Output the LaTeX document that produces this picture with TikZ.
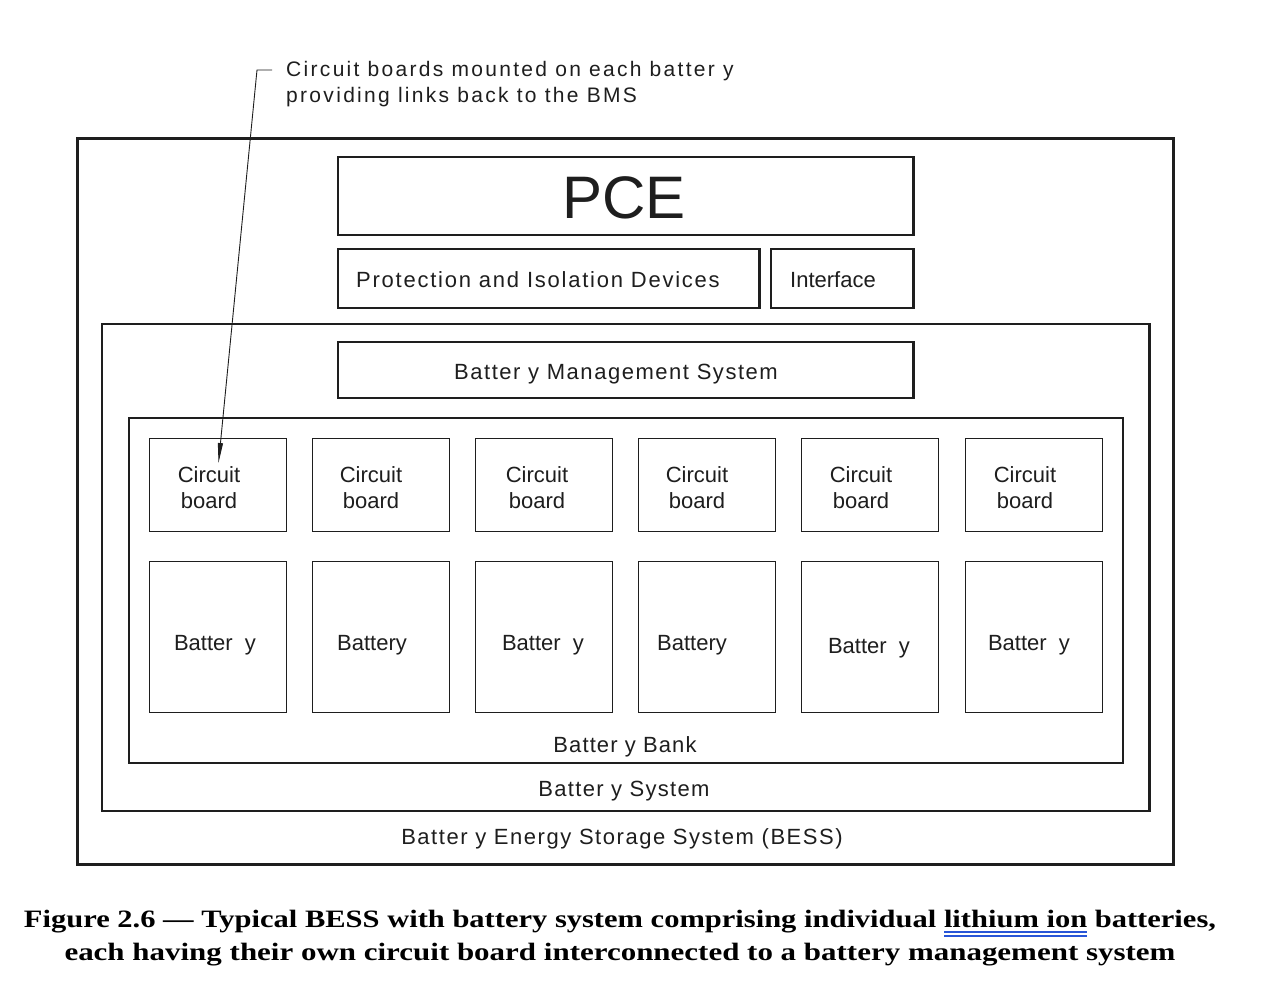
\documentclass[tikz,border=0pt]{standalone}
\usepackage{fontspec}
\setmainfont{Liberation Sans}
\newfontfamily\capfont{Liberation Serif}
\usetikzlibrary{arrows.meta}
\definecolor{ink}{HTML}{1E1E1E}
\definecolor{ulblue}{RGB}{40,85,215}
\newcommand\spc[2]{{\addfontfeature{LetterSpace=#1}#2}}
\newcommand\bul[1]{\setbox0\hbox{#1}\rlap{\textcolor{ulblue}{\rule[-5.5pt]{\wd0}{2pt}}}\rlap{\textcolor{ulblue}{\rule[-9.5pt]{\wd0}{2pt}}}\copy0\relax}
\newcommand\mybox[6]{\node[#6, minimum width={(#4-#2)*1pt}, minimum height={(#5-#3)*1pt}] (#1) at (#2,#3) {};}
\begin{document}
\begin{tikzpicture}[x=1pt,y=-1pt,
  boxbase/.style={draw=ink, inner sep=0pt, outer sep=0pt, anchor=north west},
  heavy/.style={boxbase, line width=3pt},
  medium/.style={boxbase, line width=2.4pt},
  bankline/.style={boxbase, line width=2pt},
  light/.style={boxbase, line width=1pt},
  lbl/.style={font=\fontsize{22}{26}\selectfont, text=ink, inner sep=0pt, text height=16pt, text depth=0pt},
  cblbl/.style={font=\fontsize{22}{26}\selectfont, text=ink, inner sep=0pt, align=center, anchor=north},
  note/.style={font=\fontsize{21}{26}\selectfont, text=ink, inner sep=0pt, align=left, anchor=north west},
  leader/.style={draw=ink, line width=0.9pt},
  captxt/.style={font=\capfont\bfseries\fontsize{25}{30}\selectfont, inner sep=0pt, anchor=base}
]
\useasboundingbox[fill=white] (0,0) rectangle (1278,1000);

% frames
\mybox{bess}{77.5}{138.5}{1173.5}{864}{heavy}
\mybox{pce}{338}{157}{913.5}{235}{medium}
\mybox{prot}{338}{249}{759.5}{308}{medium}
\mybox{iface}{771}{249}{913.5}{308}{medium}
\mybox{bsys}{102}{324}{1149.5}{811}{medium}
\mybox{bms}{338}{342}{913.5}{398}{medium}
\mybox{bank}{129}{418}{1122.5}{763}{bankline}

% circuit boards and batteries
\foreach \i/\xa in {1/149.5,2/312.5,3/475.5,4/638.5,5/801.5,6/965.5}{
  \mybox{cb\i}{\xa}{438.5}{\xa+137}{531.5}{light}
  \mybox{bat\i}{\xa}{561.5}{\xa+137}{712.5}{light}
}

% texts
\node[lbl, font=\fontsize{60}{60}\selectfont, text height=43pt] (pcet) at (624,197) {PCE};
\node[lbl, anchor=west] (prott) at (356,280) {\spc{8}{Protection and Isolation Devices}};
\node[lbl, anchor=west] (ifacet) at (790,280) {Interface};
\node[lbl] (bmst) at (616,372) {\spc{7}{Batter y Management System}};
\node[lbl] (bankt) at (625,744) {\spc{5}{Batter y Bank}};
\node[lbl] (bsyst) at (624,788) {\spc{6}{Batter y System}};
\node[lbl] (besst) at (622,836) {\spc{7}{Batter y Energy Storage System (BESS)}};

\foreach \i/\cx in {1/209,2/371,3/537,4/697,5/861,6/1025}{
  \node[cblbl] (cbt\i) at (\cx,466) {Circuit\\board};
}
\node[lbl] (batt1) at (215,642) {Batter\ \ y};
\node[lbl] (batt2) at (372,642) {Battery};
\node[lbl] (batt3) at (543,642) {Batter\ \ y};
\node[lbl] (batt4) at (692,642) {Battery};
\node[lbl] (batt5) at (869,645) {Batter\ \ y};
\node[lbl] (batt6) at (1029,642) {Batter\ \ y};

% annotation
\node[note] (notet) at (286,61) {\spc{11}{Circuit boards mounted on each batter y}\\\spc{11}{providing links back to the BMS}};
\coordinate (ticka) at (272,70);
\coordinate (tickb) at (257,70);
\coordinate (cbtip) at (218.5,463);
\draw[leader, -{Triangle[length=20pt,width=5pt]}] (ticka) -- (tickb) -- (cbtip);

% caption
\node[captxt] (cap1) at (620,927) {\resizebox{1192pt}{\height}{Figure 2.6 — Typical BESS with battery system comprising individual \bul{lithium ion} batteries,}};
\node[captxt] (cap2) at (620,960) {\resizebox{1111pt}{\height}{each having their own circuit board interconnected to a battery management system}};
\end{tikzpicture}
\end{document}
